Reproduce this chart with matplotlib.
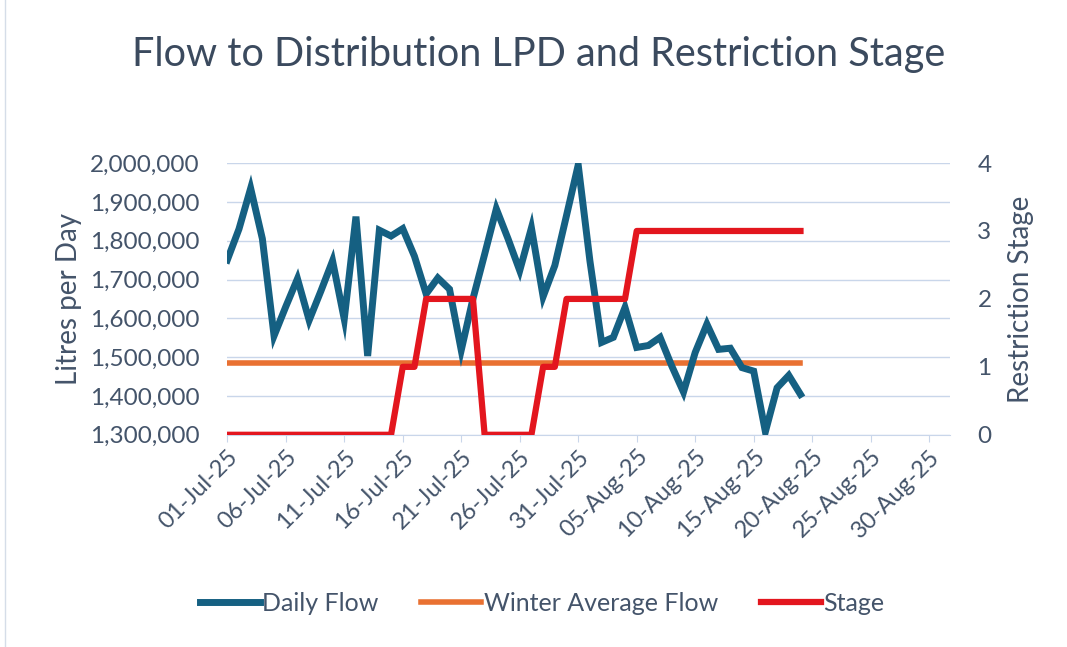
import matplotlib
matplotlib.use('Agg')
import matplotlib.pyplot as plt
import pandas as pd

plt.rcParams['font.family'] = ['Lato', 'DejaVu Sans']

dates = pd.date_range('2025-07-01', periods=50, freq='D')
daily_flow = [1750000, 1830000, 1935000, 1805000, 1555000, 1630000, 1702000, 1595000, 1670000, 1748000,
              1598000, 1862000, 1503000, 1827000, 1812000, 1831000, 1760000, 1663000, 1704000, 1675000,
              1518000, 1650000, 1765000, 1882000, 1805000, 1723000, 1833000, 1656000, 1736000, 1865000,
              1995000, 1748000, 1538000, 1551000, 1628000, 1525000, 1530000, 1551000, 1477000, 1410000,
              1512000, 1585000, 1520000, 1523000, 1473000, 1464000, 1308000, 1421000, 1453000, 1404000]
winter_avg = [1485000] * 50
stage = [0] * 15 + [1] * 2 + [2] * 5 + [0] * 5 + [1] * 2 + [2] * 6 + [3] * 15

txt = '#44546a'
c_flow = '#156082'
c_winter = '#e97132'
c_stage = '#e3161e'
grid_c = '#c9d6ea'

fig = plt.figure(figsize=(10.67, 6.47), dpi=100)
ax1 = fig.add_axes([0.213, 0.328, 0.677, 0.420])
ax2 = ax1.twinx()

l1, = ax1.plot(dates, daily_flow, color=c_flow, lw=5, solid_joinstyle='miter', zorder=3)
l2, = ax1.plot(dates, winter_avg, color=c_winter, lw=4, zorder=2)
l3, = ax2.plot(dates, stage, color=c_stage, lw=4.5, zorder=2)

ax1.set_ylim(1300000, 2000000)
ax1.set_yticks(range(1300000, 2000001, 100000))
ax1.yaxis.set_major_formatter(matplotlib.ticker.FuncFormatter(lambda v, p: f'{int(v):,}'))
ax2.set_ylim(0, 4)
ax2.set_yticks([0, 1, 2, 3, 4])

ax1.set_xlim(pd.Timestamp('2025-07-01'), pd.Timestamp('2025-08-31 18:00'))
ticks = pd.date_range('2025-07-01', '2025-08-30', freq='5D')
ax1.set_xticks(ticks)
ax1.set_xticklabels([d.strftime('%d-%b-%y') for d in ticks], rotation=45, ha='right',
                    rotation_mode='anchor', fontsize=17, color=txt)

ax1.grid(axis='y', color=grid_c, lw=1)
ax1.set_axisbelow(True)
for a in (ax1, ax2):
    for s in a.spines.values():
        s.set_visible(False)
    a.tick_params(axis='y', length=0, labelsize=17.5, labelcolor=txt, pad=20)
ax1.spines['bottom'].set_visible(True)
ax1.spines['bottom'].set_color(grid_c)
ax1.tick_params(axis='x', length=5, color=grid_c, pad=3)

ax1.set_ylabel('Litres per Day', fontsize=20, color=txt, labelpad=6)
ax2.set_ylabel('Restriction Stage', fontsize=20, color=txt, labelpad=12)

fig.suptitle('Flow to Distribution LPD and Restriction Stage', fontsize=28.5, color='#3b4a5e',
             x=0.505, y=0.945)

fig.legend([l1, l2, l3], ['Daily Flow', 'Winter Average Flow', 'Stage'], loc='center',
           bbox_to_anchor=(0.508, 0.068), ncol=3, frameon=False, fontsize=18,
           handlelength=2.4, handletextpad=0.1, columnspacing=1.7, labelcolor=txt)

fig.add_artist(plt.Line2D([0.005, 0.005], [0, 1], color='#d5dde8', lw=1))

fig.savefig('out.png', dpi=100)
